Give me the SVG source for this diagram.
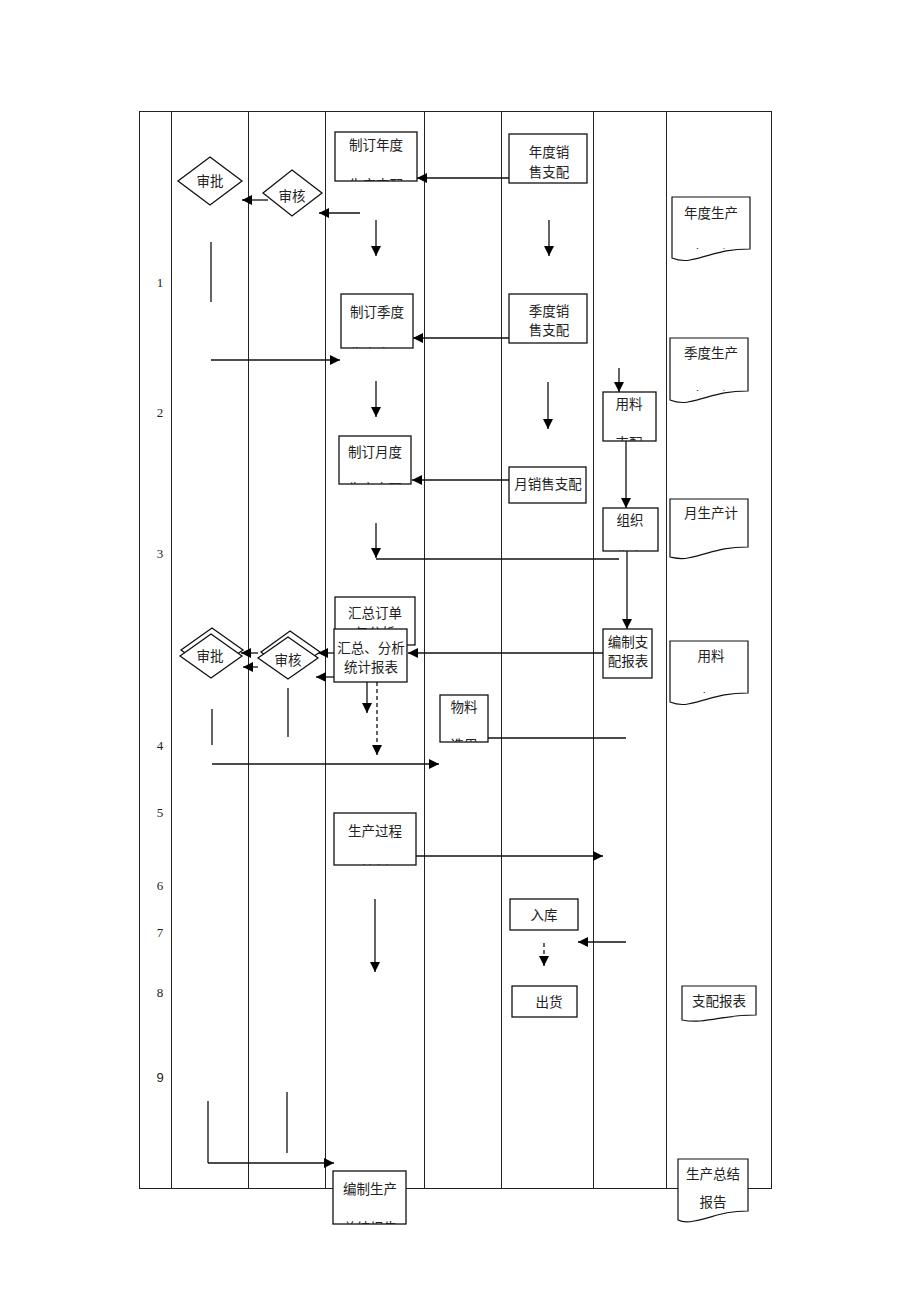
<svg xmlns="http://www.w3.org/2000/svg" width="920" height="1302" viewBox="0 0 920 1302">
<style>
.grid{stroke:#222;stroke-width:1;fill:none}
.box{fill:#fff;stroke:#111;stroke-width:1.3}
.doc{fill:#fff;stroke:#111;stroke-width:1.2}
.t{font-family:"Liberation Serif","Noto Sans CJK SC",serif;font-size:13.5px;fill:#222;text-anchor:middle}
.n{font-family:"Liberation Serif",serif;font-size:13px;fill:#222;text-anchor:middle}
.c{stroke:#111;stroke-width:1.3;fill:none}
.ca{stroke:#111;stroke-width:1.3;fill:none;marker-end:url(#ah)}
.da{stroke:#111;stroke-width:1.3;fill:none;stroke-dasharray:4,3;marker-end:url(#ah)}
</style>
<defs>
<marker id="ah" viewBox="0 0 10 10" refX="10" refY="5" markerWidth="10" markerHeight="10" orient="auto" markerUnits="userSpaceOnUse"><path d="M0,0 L10,5 L0,10 z" fill="#000"/></marker>
<clipPath id="k1"><rect x="335" y="132" width="82" height="49"/></clipPath>
<clipPath id="k2"><rect x="341" y="294" width="72" height="54"/></clipPath>
<clipPath id="k3"><rect x="339" y="436" width="72" height="48"/></clipPath>
<clipPath id="k4"><rect x="603" y="392" width="53" height="49"/></clipPath>
<clipPath id="k5"><rect x="603" y="508" width="55" height="43"/></clipPath>
<clipPath id="k6"><rect x="440" y="695" width="48" height="47"/></clipPath>
<clipPath id="k7"><rect x="333" y="1171" width="73" height="53"/></clipPath>
<clipPath id="k8"><rect x="335" y="597" width="80" height="32"/></clipPath>
<clipPath id="d1"><rect x="672" y="197" width="78" height="52"/></clipPath>
<clipPath id="d2"><rect x="670" y="338" width="78" height="53"/></clipPath>
<clipPath id="d4"><rect x="670" y="641" width="78" height="52"/></clipPath>
<clipPath id="d7"><rect x="334" y="813" width="82" height="52"/></clipPath>
</defs>
<rect width="920" height="1302" fill="#fff"/>

<g id="grid">
<rect class="grid" x="139.5" y="111.5" width="632" height="1077"/>
<line class="grid" x1="171.5" y1="111" x2="171.5" y2="1189"/>
<line class="grid" x1="248.5" y1="111" x2="248.5" y2="1189"/>
<line class="grid" x1="325.5" y1="111" x2="325.5" y2="1189"/>
<line class="grid" x1="424.5" y1="111" x2="424.5" y2="1189"/>
<line class="grid" x1="501.5" y1="111" x2="501.5" y2="1189"/>
<line class="grid" x1="593.5" y1="111" x2="593.5" y2="1189"/>
<line class="grid" x1="666.5" y1="111" x2="666.5" y2="1189"/>
</g>

<g id="rowlabels">
<text class="n" x="160" y="287">1</text>
<text class="n" x="160" y="417">2</text>
<text class="n" x="160" y="558">3</text>
<text class="n" x="160" y="750">4</text>
<text class="n" x="160" y="817">5</text>
<text class="n" x="160" y="890">6</text>
<text class="n" x="160" y="937">7</text>
<text class="n" x="160" y="997">8</text>
<text class="n" x="160" y="1082" style="font-family:'Liberation Sans',sans-serif">9</text>
</g>

<g id="connectors">
<line class="ca" x1="509" y1="178" x2="417" y2="178"/>
<line class="ca" x1="268" y1="200" x2="242" y2="200"/>
<line class="ca" x1="360" y1="213" x2="319" y2="213"/>
<line class="ca" x1="376" y1="220" x2="376" y2="256"/>
<line class="ca" x1="549" y1="220" x2="549" y2="256"/>
<line class="c" x1="211" y1="242" x2="211" y2="302"/>
<line class="ca" x1="509" y1="338" x2="413" y2="338"/>
<line class="ca" x1="211" y1="360" x2="340" y2="360"/>
<line class="ca" x1="376" y1="381" x2="376" y2="417"/>
<line class="ca" x1="548" y1="382" x2="548" y2="429"/>
<line class="ca" x1="619" y1="368" x2="619" y2="392"/>
<line class="ca" x1="626" y1="441" x2="626" y2="508"/>
<line class="ca" x1="509" y1="480" x2="412" y2="480"/>
<line class="ca" x1="376" y1="523" x2="376" y2="558"/>
<line class="c" x1="376" y1="559" x2="619" y2="559"/>
<line class="ca" x1="627" y1="551" x2="627" y2="629"/>
<line class="ca" x1="603" y1="653" x2="408" y2="653"/>
<line class="ca" x1="334" y1="653" x2="318" y2="653"/>
<line class="ca" x1="334" y1="677" x2="316" y2="677"/>
<line class="ca" x1="258" y1="653" x2="241" y2="653"/>
<line class="ca" x1="258" y1="667" x2="243" y2="667"/>
<line class="ca" x1="367" y1="682" x2="367" y2="713"/>
<line class="da" x1="377" y1="682" x2="377" y2="755"/>
<line class="c" x1="212" y1="709" x2="212" y2="745"/>
<line class="c" x1="288" y1="688" x2="288" y2="737"/>
<line class="ca" x1="212" y1="764" x2="439" y2="764"/>
<line class="c" x1="488" y1="738" x2="626" y2="738"/>
<line class="ca" x1="416" y1="856" x2="603" y2="856"/>
<line class="ca" x1="375" y1="899" x2="375" y2="972"/>
<line class="ca" x1="626" y1="942" x2="578" y2="942"/>
<line class="da" x1="544" y1="943" x2="544" y2="966"/>
<line class="c" x1="208" y1="1101" x2="208" y2="1163"/>
<line class="c" x1="287" y1="1092" x2="287" y2="1153"/>
<line class="ca" x1="208" y1="1163" x2="334" y2="1163"/>
</g>

<g id="n-zhiding-niandu">
<rect class="box" x="335" y="132" width="82" height="49"/>
<text class="t" x="376" y="150">制订年度</text>
<text class="t" x="376" y="190" clip-path="url(#k1)">生产支配</text>
</g>
<g id="n-niandu-xiaoshou">
<rect class="box" x="509" y="134" width="78" height="49"/>
<text class="t" x="549" y="157">年度销</text>
<text class="t" x="549" y="177">售支配</text>
</g>
<g id="n-shenpi-1">
<polygon class="box" points="210,157 242,181 210,205 178,181"/>
<text class="t" x="210" y="186">审批</text>
</g>
<g id="n-shenhe-1">
<polygon class="box" points="292,170 322,193 292,216 263,193"/>
<text class="t" x="292" y="201">审核</text>
</g>
<g id="n-doc-niandu">
<path class="doc" d="M672,197 H750 V249 C720,249 712,256 690,260 C682,261.5 677,260 672,258 Z"/>
<text class="t" x="711" y="218">年度生产</text>
<text class="t" x="711" y="260" clip-path="url(#d1)">支配书</text>
</g>
<g id="n-zhiding-jidu">
<rect class="box" x="341" y="294" width="72" height="54"/>
<text class="t" x="377" y="317">制订季度</text>
<text class="t" x="377" y="359" clip-path="url(#k2)">生产支配</text>
</g>
<g id="n-jidu-xiaoshou">
<rect class="box" x="509" y="294" width="78" height="49"/>
<text class="t" x="549" y="316">季度销</text>
<text class="t" x="549" y="335">售支配</text>
</g>
<g id="n-doc-jidu">
<path class="doc" d="M670,338 H748 V391 C718,391 710,398 688,402 C680,403.5 675,402 670,400 Z"/>
<text class="t" x="711" y="358">季度生产</text>
<text class="t" x="711" y="402" clip-path="url(#d2)">支配书</text>
</g>
<g id="n-yongliao-zhipei">
<rect class="box" x="603" y="392" width="53" height="49"/>
<text class="t" x="629" y="409">用料</text>
<text class="t" x="629" y="448" clip-path="url(#k4)">支配</text>
</g>
<g id="n-zhiding-yuedu">
<rect class="box" x="339" y="436" width="72" height="48"/>
<text class="t" x="375" y="457">制订月度</text>
<text class="t" x="375" y="494" clip-path="url(#k3)">生产支配</text>
</g>
<g id="n-yue-xiaoshou">
<rect class="box" x="509" y="467" width="77" height="36"/>
<text class="t" x="548" y="489">月销售支配</text>
</g>
<g id="n-zuzhi">
<rect class="box" x="603" y="508" width="55" height="43"/>
<text class="t" x="630" y="525">组织</text>
<text class="t" x="630" y="562" clip-path="url(#k5)">生产</text>
</g>
<g id="n-doc-yue">
<path class="doc" d="M670,499 H748 V547 C718,547 710,554 688,558 C680,559.5 675,558 670,557 Z"/>
<text class="t" x="711" y="518">月生产计</text>
</g>
<g id="n-huizong-dingdan">
<rect class="box" x="335" y="597" width="80" height="48"/>
<text class="t" x="375" y="618">汇总订单</text>
<text class="t" x="375" y="638" clip-path="url(#k8)">与分析</text>
</g>
<g id="n-huizong-fenxi">
<rect class="box" x="334" y="629" width="73" height="53"/>
<text class="t" x="371" y="653">汇总、分析</text>
<text class="t" x="371" y="672">统计报表</text>
</g>
<g id="n-shenpi-2">
<polygon class="box" points="212,628 243,650 212,672 181,650"/>
<polygon class="box" points="211,634 242,656 211,678 180,656"/>
<text class="t" x="210" y="661">审批</text>
</g>
<g id="n-shenhe-2">
<polygon class="box" points="290,631 320,652 290,673 261,652"/>
<polygon class="box" points="288,637 318,658 288,679 258,658"/>
<text class="t" x="288" y="665">审核</text>
</g>
<g id="n-bianzhi-baobiao">
<rect class="box" x="603" y="629" width="49" height="49"/>
<text class="t" x="628" y="647">编制支</text>
<text class="t" x="628" y="666">配报表</text>
</g>
<g id="n-doc-yongliao">
<path class="doc" d="M670,641 H748 V693 C718,693 710,700 688,704 C680,705.5 675,704 670,702 Z"/>
<text class="t" x="711" y="661">用料</text>
<text class="t" x="711" y="704" clip-path="url(#d4)">支配</text>
</g>
<g id="n-wuliao">
<rect class="box" x="440" y="695" width="48" height="47"/>
<text class="t" x="464" y="712">物料</text>
<text class="t" x="464" y="750" clip-path="url(#k6)">选用</text>
</g>
<g id="n-shengchan-guocheng">
<rect class="box" x="334" y="813" width="82" height="52"/>
<text class="t" x="375" y="836">生产过程</text>
<text class="t" x="375" y="876" clip-path="url(#d7)">控制</text>
</g>
<g id="n-ruku">
<rect class="box" x="510" y="899" width="68" height="31"/>
<text class="t" x="544" y="920">入库</text>
</g>
<g id="n-chuhuo">
<rect class="box" x="512" y="986" width="65" height="31"/>
<text class="t" x="549" y="1007">出货</text>
</g>
<g id="n-doc-zhipei">
<path class="doc" d="M682,986 H756 V1015 C730,1015 720,1019 700,1021 C693,1021.5 687,1021 682,1020 Z"/>
<text class="t" x="719" y="1006">支配报表</text>
</g>
<g id="n-bianzhi-shengchan">
<rect class="box" x="333" y="1171" width="73" height="53"/>
<text class="t" x="370" y="1194">编制生产</text>
<text class="t" x="370" y="1233" clip-path="url(#k7)">总结报告</text>
</g>
<g id="n-doc-zongjie">
<path class="doc" d="M678,1159 H748 V1211 C721,1211 713,1218 694,1221 C687,1222.5 682,1222 678,1220 Z"/>
<text class="t" x="713" y="1179">生产总结</text>
<text class="t" x="713" y="1207">报告</text>
</g>
</svg>
